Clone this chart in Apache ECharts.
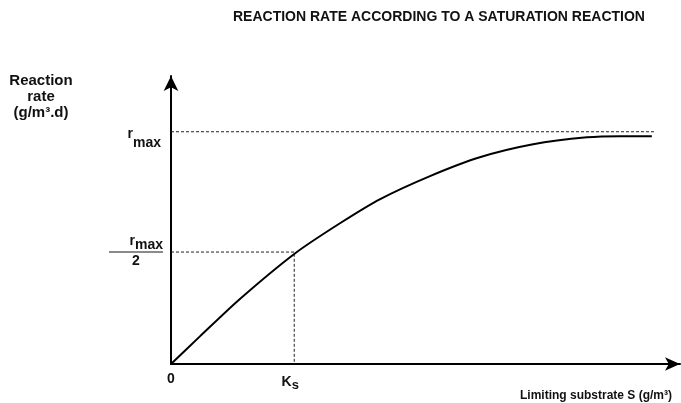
<!DOCTYPE html>
<html>
<head>
<meta charset="utf-8">
<script src="https://cdn.jsdelivr.net/npm/echarts@6/dist/echarts.min.js"></script>
<style>
  html, body { margin: 0; padding: 0; background: #fff; }
  #chart { width: 681px; height: 403px; }
</style>
</head>
<body>
<div id="chart"></div>
<script>
// substrate S (arbitrary units) and reaction rate (fraction of r_max)
const sValues = [0, 0.58, 1.37, 2.47, 3.36, 4.16, 5.15, 6.14, 7.2, 8.27, 8.93, 9.56]
const rateValues = [0, 0.12, 0.28, 0.477, 0.606, 0.71, 0.809, 0.89, 0.946, 0.976, 0.981, 0.981]

const rMax = 1
const rHalf = 0.482
const ks = 2.45
const sEnd = 9.62

const font = 'Liberation Sans, Arial, sans-serif'

const chart = echarts.init(document.getElementById('chart'))

const dash = { color: '#222', width: 1, type: [3, 2] }
const txt = { fontFamily: font, fontWeight: 'bold', color: '#111' }

chart.setOption({
  backgroundColor: '#fff',
  animation: false,
  title: [
    {
      text: 'REACTION RATE ACCORDING TO A SATURATION REACTION',
      left: 228,
      top: 5,
      textStyle: { ...txt, fontSize: 14 },
    },
    {
      text: 'Reaction\nrate\n(g/m³.d)',
      left: 36,
      top: 68,
      textAlign: 'center',
      textStyle: { ...txt, fontSize: 15, lineHeight: 16, align: 'center' },
    },
    {
      text: 'Limiting substrate S (g/m³)',
      left: 515,
      top: 385,
      textStyle: { ...txt, fontSize: 12 },
    },
  ],
  grid: { left: 171, right: 1, top: 76, bottom: 39 },
  xAxis: {
    type: 'value',
    min: 0,
    max: 10.12,
    splitLine: { show: false },
    axisTick: { show: false },
    axisLine: {
      onZero: false,
      symbol: ['none', 'arrow'],
      symbolSize: [10, 15],
      lineStyle: { color: '#000', width: 2 },
    },
    axisLabel: {
      customValues: [0, ks],
      margin: 8,
      formatter: v => (v === 0 ? '{n|0}' : '{k|K}{s|s}'),
      rich: {
        n: { ...txt, fontSize: 14 },
        k: { ...txt, fontSize: 14 },
        s: { ...txt, fontSize: 13, padding: [7, 8, 0, 0] },
      },
    },
  },
  yAxis: {
    type: 'value',
    min: 0,
    max: 1.24,
    splitLine: { show: false },
    axisTick: { show: false },
    axisLine: {
      onZero: false,
      symbol: ['none', 'arrow'],
      symbolSize: [11, 15],
      lineStyle: { color: '#000', width: 2 },
    },
    axisLabel: {
      customValues: [rHalf, rMax],
      margin: 8,
      formatter: v => (v === rMax
        ? '{r|r}{m|max}'
        : '{r2|r}{m2|max}\n{bar|}\n{two|2}'),
      rich: {
        r: { ...txt, fontSize: 14, lineHeight: 14, padding: [17, 0, 12, 0] },
        m: { ...txt, fontSize: 14, lineHeight: 14, padding: [26, 2, 3, 0] },
        r2: { ...txt, fontSize: 14, lineHeight: 14, padding: [0, 0, 4, 0] },
        m2: { ...txt, fontSize: 14, lineHeight: 14, padding: [4, 0, 0, 0] },
        bar: { width: 54, height: 2, backgroundColor: '#8a8a8a', lineHeight: 4 },
        two: { ...txt, fontSize: 14, align: 'center', lineHeight: 14 },
      },
    },
  },
  series: [
    {
      type: 'line',
      data: [[0, rMax], [sEnd, rMax]],
      symbol: 'none',
      lineStyle: dash,
      silent: true,
    },
    {
      type: 'line',
      data: [[0, rHalf], [ks, rHalf], [ks, 0]],
      symbol: 'none',
      lineStyle: dash,
      silent: true,
    },
    {
      type: 'line',
      data: sValues.map((s, i) => [s, rateValues[i]]),
      symbol: 'none',
      smooth: 0.25,
      lineStyle: { color: '#000', width: 2 },
      z: 5,
    },
  ],
})
</script>
</body>
</html>
